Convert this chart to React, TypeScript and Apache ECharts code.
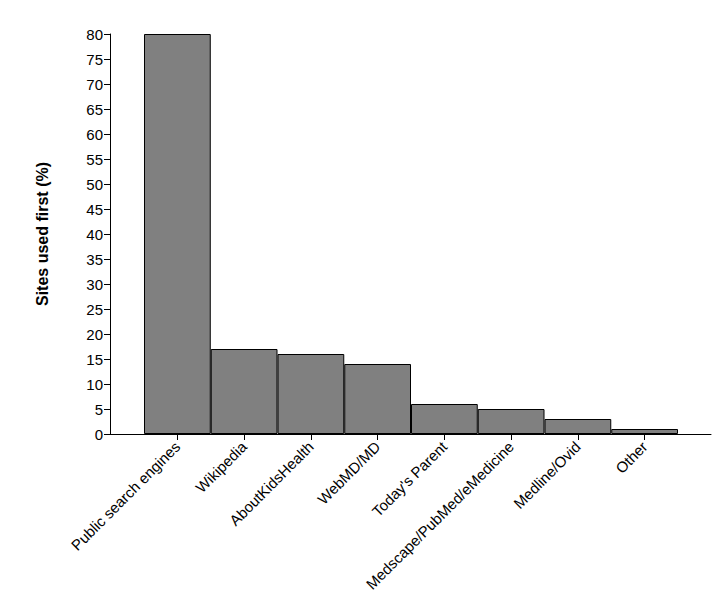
import React, { useEffect, useRef } from "react";
import * as echarts from "echarts";

const categories = [
  "Public search engines",
  "Wikipedia",
  "AboutKidsHealth",
  "WebMD/MD",
  "Today's Parent",
  "Medscape/PubMed/eMedicine",
  "Medline/Ovid",
  "Other",
];
const values = [80, 17, 16, 14, 6, 5, 3, 1];
const yTicks = { min: 0, max: 80, interval: 5 };
const yTitle = "Sites used first (%)";

export default function App() {
  const ref = useRef<HTMLDivElement>(null);
  useEffect(() => {
    const chart = echarts.init(ref.current!, undefined, { renderer: "svg" });
    const font = "Arial, 'Liberation Sans', sans-serif";
    chart.setOption({
      animation: false,
      backgroundColor: "#fff",
      grid: [
        { left: 144, right: 47, top: 34, bottom: 181 },
        { left: 110, right: 14, top: 34, bottom: 181 },
      ],
      xAxis: [
        {
          type: "category",
          gridIndex: 0,
          data: categories,
          boundaryGap: true,
          axisLine: { show: false },
          axisTick: {
            show: true,
            alignWithLabel: true,
            length: 6,
            lineStyle: { color: "#000", width: 1 },
          },
          axisLabel: {
            rotate: 45,
            interval: 0,
            color: "#000",
            fontSize: 15,
            fontFamily: font,
            margin: 10,
          },
        },
        {
          type: "value",
          gridIndex: 1,
          min: 0,
          max: 1,
          axisLine: { show: true, onZero: false, lineStyle: { color: "#000", width: 1 } },
          axisTick: { show: false },
          axisLabel: { show: false },
          splitLine: { show: false },
        },
      ],
      yAxis: [
        {
          type: "value",
          gridIndex: 0,
          min: yTicks.min,
          max: yTicks.max,
          interval: yTicks.interval,
          offset: 34,
          name: yTitle,
          nameLocation: "middle",
          nameGap: 60,
          nameTextStyle: {
            color: "#000",
            fontSize: 16,
            fontWeight: "bold",
            fontFamily: font,
          },
          axisLine: { show: true, lineStyle: { color: "#000", width: 1 } },
          axisTick: { show: true, inside: false, length: 6, lineStyle: { color: "#000" } },
          axisLabel: { color: "#000", fontSize: 15, fontFamily: font, margin: 7 },
          splitLine: { show: false },
        },
        {
          type: "value",
          gridIndex: 1,
          show: false,
          min: 0,
          max: 1,
        },
      ],
      series: [
        {
          type: "bar",
          xAxisIndex: 0,
          yAxisIndex: 0,
          data: values,
          barCategoryGap: "0%",
          itemStyle: { color: "#808080", borderColor: "#000", borderWidth: 1 },
        },
      ],
    });
    return () => chart.dispose();
  }, []);
  return <div ref={ref} style={{ width: 725, height: 615, position: "absolute", left: 0, top: 0 }} />;
}
